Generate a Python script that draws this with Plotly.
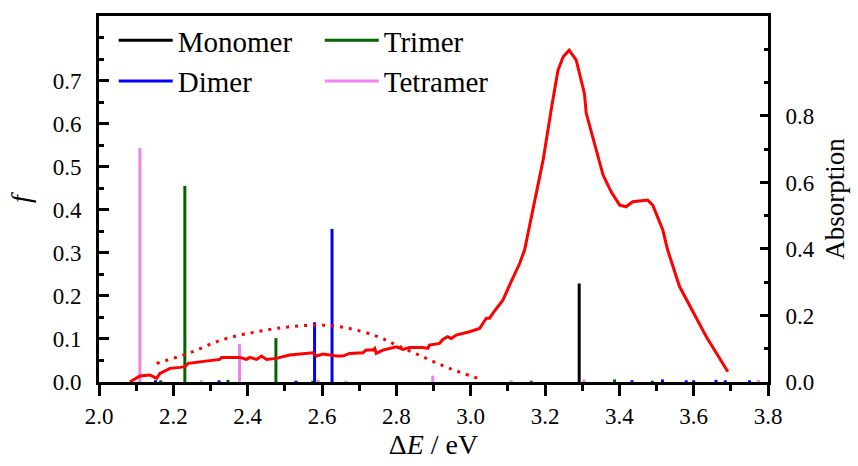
import plotly.graph_objects as go

# ---------------- data ----------------
mono_E = [3.292]
mono_f = [0.229]

dimer_E = [2.152, 2.323, 2.530, 2.580, 2.627, 3.434, 3.516, 3.580, 3.600, 3.660, 3.685, 3.750]
dimer_f = [0.004, 0.004, 0.003, 0.139, 0.356, 0.004, 0.006, 0.004, 0.004, 0.005, 0.004, 0.004]

trimer_E = [2.166, 2.231, 2.347, 2.476, 2.575, 3.163, 3.387, 3.489]
trimer_f = [0.004, 0.456, 0.005, 0.102, 0.003, 0.003, 0.006, 0.003]

tetra_E = [2.110, 2.276, 2.378, 2.590, 2.664, 2.898, 3.109, 3.305, 3.774]
tetra_f = [0.544, 0.004, 0.088, 0.005, 0.003, 0.015, 0.004, 0.006, 0.005]

abs_E = [2.083, 2.110, 2.137, 2.155, 2.164, 2.191, 2.218, 2.231, 2.240, 2.325, 2.330,
         2.379, 2.397, 2.406, 2.424, 2.437, 2.451, 2.477, 2.513, 2.549, 2.576, 2.585,
         2.603, 2.639, 2.656, 2.674, 2.710, 2.719, 2.737, 2.742, 2.746, 2.764, 2.800,
         2.818, 2.836, 2.871, 2.885, 2.889, 2.916, 2.925, 2.938, 2.948, 2.961, 2.997,
         3.024, 3.042, 3.051, 3.060, 3.087, 3.109, 3.132, 3.145, 3.168, 3.195, 3.218,
         3.235, 3.249, 3.265, 3.284, 3.306, 3.311, 3.333, 3.356, 3.378, 3.401, 3.418,
         3.436, 3.476, 3.490, 3.517, 3.530, 3.562, 3.589, 3.634, 3.692]
abs_A = [0.000, 0.018, 0.021, 0.011, 0.026, 0.041, 0.044, 0.046, 0.056, 0.068, 0.074,
         0.074, 0.068, 0.074, 0.068, 0.078, 0.068, 0.071, 0.081, 0.084, 0.088, 0.078,
         0.084, 0.078, 0.078, 0.086, 0.088, 0.096, 0.096, 0.101, 0.086, 0.096, 0.106,
         0.098, 0.104, 0.104, 0.101, 0.111, 0.116, 0.128, 0.136, 0.131, 0.141, 0.151,
         0.161, 0.192, 0.192, 0.207, 0.247, 0.302, 0.357, 0.397, 0.527, 0.668, 0.828,
         0.938, 0.978, 0.998, 0.968, 0.868, 0.808, 0.718, 0.623, 0.572, 0.532, 0.527,
         0.542, 0.547, 0.532, 0.457, 0.397, 0.287, 0.232, 0.136, 0.031]

fit_E = [2.155, 2.240, 2.334, 2.424, 2.513, 2.603, 2.674, 2.746, 2.800, 2.871, 2.943, 3.019]
fit_A = [0.056, 0.086, 0.128, 0.151, 0.166, 0.171, 0.161, 0.138, 0.111, 0.076, 0.041, 0.011]

x_tick_vals = [2.0, 2.2, 2.4, 2.6, 2.8, 3.0, 3.2, 3.4, 3.6, 3.8]
y_tick_vals = [0.0, 0.1, 0.2, 0.3, 0.4, 0.5, 0.6, 0.7]
y2_tick_vals = [0.0, 0.2, 0.4, 0.6, 0.8]

FONT = "'Liberation Serif', 'Times New Roman', Times, serif"


def sticks(E, f):
    xs, ys = [], []
    for e, v in zip(E, f):
        xs += [e, e, None]
        ys += [0, v, None]
    return xs, ys


fig = go.Figure()

series = [
    ("Monomer", mono_E, mono_f, "#000000", "legend"),
    ("Dimer", dimer_E, dimer_f, "#0000ff", "legend"),
    ("Trimer", trimer_E, trimer_f, "#006400", "legend2"),
    ("Tetramer", tetra_E, tetra_f, "#ee82ee", "legend2"),
]
for name, E, f, col, lg in series:
    xs, ys = sticks(E, f)
    fig.add_trace(go.Scatter(x=xs, y=ys, mode="lines", name=name, legend=lg,
                             line=dict(color=col, width=3), yaxis="y"))

fig.add_trace(go.Scatter(x=fit_E, y=fit_A, mode="lines", showlegend=False,
                         line=dict(color="#ff0000", width=3, dash="3px,6px", shape="spline"),
                         yaxis="y2"))
fig.add_trace(go.Scatter(x=abs_E, y=abs_A, mode="lines", showlegend=False,
                         line=dict(color="#ff0000", width=3), yaxis="y2"))

axis_common = dict(showgrid=False, zeroline=False, showline=True, linecolor="black",
                   linewidth=3, tickcolor="black", tickwidth=3,
                   tickfont=dict(family=FONT, size=23, color="black"))

legend_common = dict(orientation="v", yanchor="top", xanchor="left", y=1.003,
                     itemwidth=54, tracegroupgap=0, bgcolor="rgba(0,0,0,0)",
                     font=dict(family=FONT, size=29, color="black"))

fig.update_layout(
    width=858, height=466,
    margin=dict(l=99, r=88, t=16, b=84),
    plot_bgcolor="white", paper_bgcolor="white",
    font=dict(family=FONT, color="black"),
    xaxis=dict(range=[2.0, 3.8], tickvals=x_tick_vals,
               ticktext=[f"{v:.1f}" for v in x_tick_vals],
               ticks="outside", ticklen=11, mirror=True,
               minor=dict(dtick=0.1, tick0=2.0, ticks="outside", ticklen=6,
                          tickwidth=3, tickcolor="black"),
               title=dict(text="Δ<i>E</i> / eV", font=dict(family=FONT, size=28), standoff=4),
               **axis_common),
    yaxis=dict(range=[0, 0.851], tickvals=y_tick_vals,
               ticktext=[f"{v:.1f}" for v in y_tick_vals],
               ticks="inside", ticklen=10, ticklabelstandoff=10,
               minor=dict(dtick=0.05, tick0=0, ticks="inside", ticklen=5,
                          tickwidth=3, tickcolor="black"),
               title=dict(text="<i>f</i>", font=dict(family=FONT, size=28), standoff=14),
               **axis_common),
    yaxis2=dict(range=[0, 1.1007], tickvals=y2_tick_vals,
                ticktext=[f"{v:.1f}" for v in y2_tick_vals],
                overlaying="y", side="right",
                ticks="inside", ticklen=8, ticklabelstandoff=10,
                minor=dict(dtick=0.1, tick0=0, ticks="inside", ticklen=4,
                           tickwidth=3, tickcolor="black"),
                title=dict(text="Absorption", font=dict(family=FONT, size=27), standoff=12),
                **axis_common),
    legend=dict(x=0.022, **legend_common),
    legend2=dict(x=0.33, **legend_common),
)

fig.write_html("out.html")
